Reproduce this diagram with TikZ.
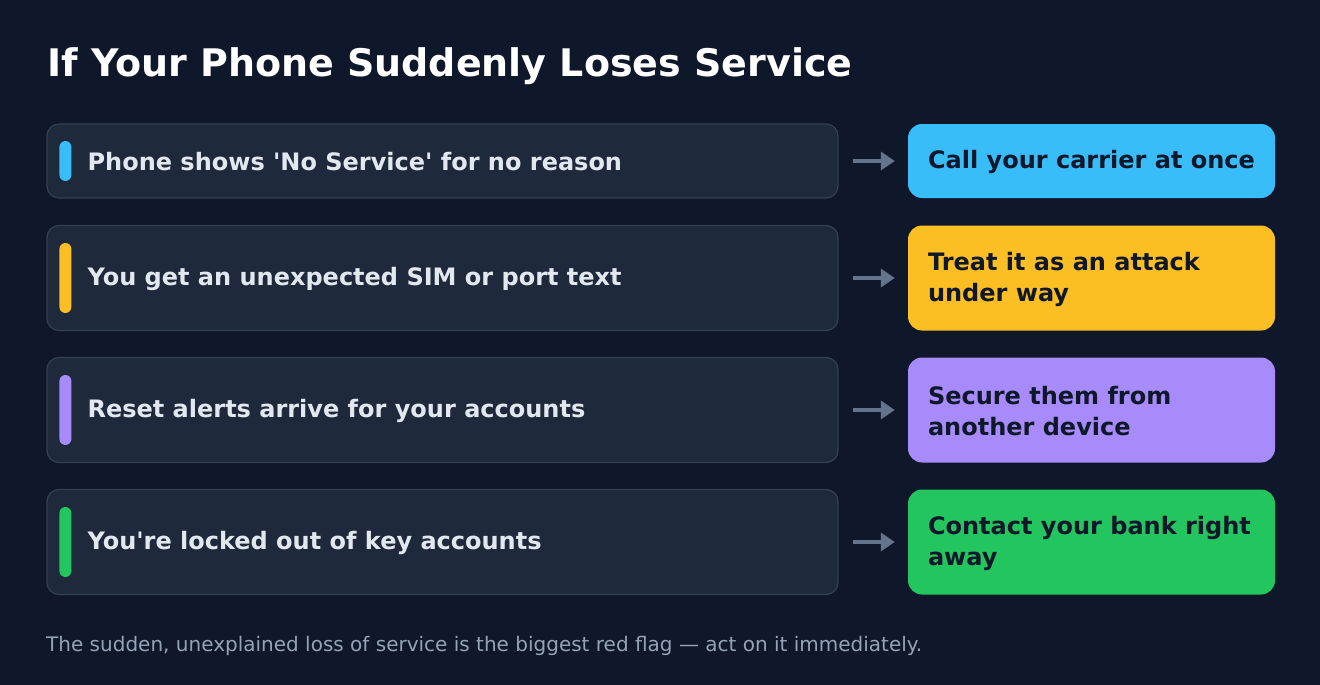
\documentclass[tikz,border=0pt]{standalone}
\usepackage{fontspec}
\setmainfont{DejaVu Sans}
\usetikzlibrary{arrows.meta,positioning}
\definecolor{bgdark}{HTML}{0F172A}
\definecolor{cardfill}{HTML}{1E293B}
\definecolor{cardline}{HTML}{334155}
\definecolor{cuetext}{HTML}{E2E8F0}
\definecolor{foottext}{HTML}{94A3B8}
\definecolor{arrowgray}{HTML}{64748B}
\definecolor{sky}{HTML}{38BDF8}
\definecolor{amber}{HTML}{FBBF24}
\definecolor{violet}{HTML}{A78BFA}
\definecolor{leaf}{HTML}{22C55E}
\tikzset{
  card/.style={draw=cardline,fill=cardfill,line width=1.2pt,rounded corners=12pt,minimum width=791pt,inner sep=0pt},
  actbox/.style={fill=#1,rounded corners=14pt,minimum width=367pt,inner sep=0pt},
  bar/.style={fill=#1,rounded corners=6pt,minimum width=12pt,inner sep=0pt},
  cuelabel/.style={text=cuetext,font=\bfseries\fontsize{24}{31}\selectfont,inner sep=0pt,anchor=west},
  actlabel/.style={text=bgdark,font=\bfseries\fontsize{24}{31}\selectfont,inner sep=0pt,anchor=west,align=left},
  flow/.style={draw=arrowgray,line width=4pt,-{Triangle[length=14pt,width=18pt]},shorten <=14pt,shorten >=13pt}
}
\begin{document}
\begin{tikzpicture}[x=1pt,y=-1pt]
  \fill[bgdark] (0,0) rectangle (1320,685);
  \useasboundingbox (0,0) rectangle (1320,685);
  \node[anchor=base west,inner sep=0pt,text=white,font=\bfseries\fontsize{38}{44}\selectfont] (title) at (47,77) {If Your Phone Suddenly Loses Service};
  % one row per warning sign
  \foreach \yc/\h/\bh/\col/\cue/\act [count=\i] in {
      161/74/40/sky/{Phone shows {\textquotesingle}No Service{\textquotesingle} for no reason}/{Call your carrier at once},
      278/105/70/amber/{You get an unexpected SIM or port text}/{Treat it as an attack\\under way},
      410/105/70/violet/{Reset alerts arrive for your accounts}/{Secure them from\\another device},
      542/105/70/leaf/{You{\textquotesingle}re locked out of key accounts}/{Contact your bank right\\away}}{
    \node[card,minimum height=\h pt] (card\i) at (442.5,\yc) {};
    \node[actbox=\col,minimum height=\h pt] (act\i) at (1091.5,\yc) {};
    \node[bar=\col,minimum height=\bh pt] (bar\i) at ([xshift=19pt]card\i.west) {};
    \node[cuelabel] (cue\i) at ([xshift=41pt,yshift=-1pt]card\i.west) {\cue};
    \node[actlabel] (do\i) at ([xshift=20pt,yshift=-1pt]act\i.west) {\act};
    \draw[flow] (card\i.east) -- (act\i.west);
  }
  \node[anchor=base west,inner sep=0pt,text=foottext,font=\fontsize{20}{24}\selectfont] (footer) at (46,651) {The sudden, unexplained loss of service is the biggest red flag — act on it immediately.};
\end{tikzpicture}
\end{document}
